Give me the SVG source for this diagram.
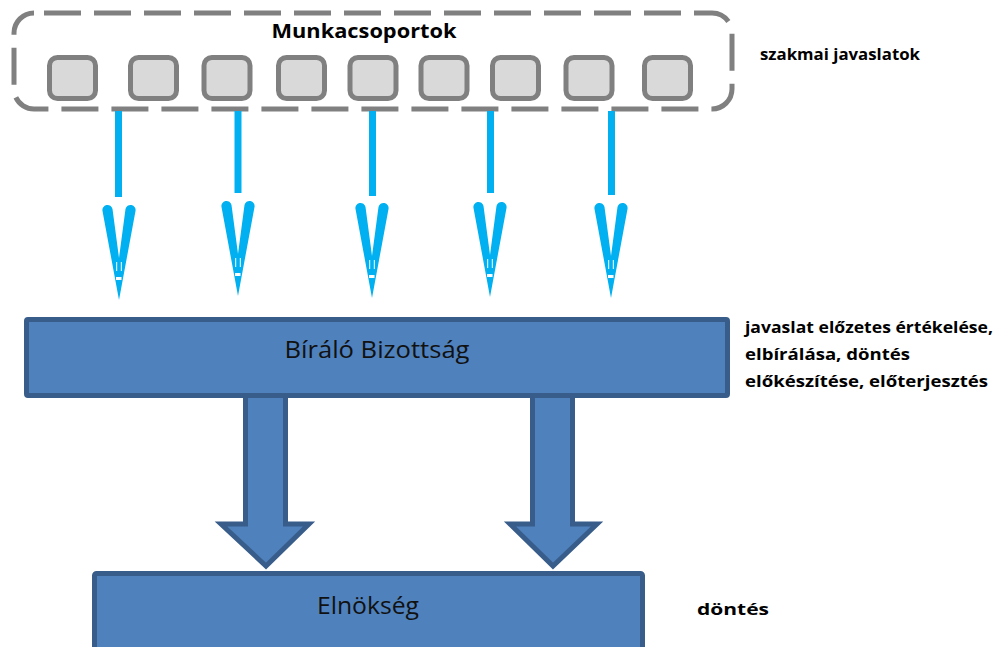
<svg xmlns="http://www.w3.org/2000/svg" width="1007" height="647" viewBox="0 0 1007 647">
<style>
.sq{fill:#d9d9d9;stroke:#808080;stroke-width:5}
.line{stroke:#00b0f0;stroke-width:7;fill:none}
.head{fill:#00b0f0}
.big{fill:#4f81bd;stroke:#385d8a;stroke-width:5;stroke-linejoin:miter}
.lbl{font-family:"Open Sans","Liberation Sans",Arial,sans-serif;font-weight:bold;font-size:16.5px;fill:#000}
.nodeText{font-family:"Open Sans","Liberation Sans",Arial,sans-serif;font-size:23px;fill:#111}
</style>
<defs>
<g id="vhead">
<path class="head" d="M0 0 L-16.5 -89 A4.8 4.8 0 0 1 -6.5 -91 L0 -42 L6.5 -91 A4.8 4.8 0 0 1 16.5 -89 Z"/>
<rect x="-2.8" y="-38" width="1" height="9" fill="#fff"/>
<rect x="1.8" y="-38" width="1" height="9" fill="#fff"/>
<rect x="-3" y="-23" width="5.5" height="3" fill="#fff"/>
</g>
</defs>
<rect width="1007" height="647" fill="#fff"/>
<g id="munkacsoportok">
<rect x="14" y="13" width="718" height="96" rx="20" fill="none" stroke="#808080" stroke-width="5" stroke-dasharray="37 13" stroke-dashoffset="-10"/>
<text x="364" y="38" text-anchor="middle" font-family="Open Sans,Liberation Sans,Arial,sans-serif" font-weight="bold" font-size="20" textLength="185" lengthAdjust="spacingAndGlyphs">Munkacsoportok</text>
<rect class="sq" x="49.5" y="57.5" width="46" height="41" rx="8"/>
<rect class="sq" x="130.5" y="57.5" width="46" height="41" rx="8"/>
<rect class="sq" x="204" y="57.5" width="46" height="41" rx="8"/>
<rect class="sq" x="278.5" y="57.5" width="46" height="41" rx="8"/>
<rect class="sq" x="350" y="57.5" width="46" height="41" rx="8"/>
<rect class="sq" x="421" y="57.5" width="46" height="41" rx="8"/>
<rect class="sq" x="492.5" y="57.5" width="46" height="41" rx="8"/>
<rect class="sq" x="566" y="57.5" width="46" height="41" rx="8"/>
<rect class="sq" x="644.5" y="57.5" width="46" height="41" rx="8"/>
</g>
<g id="connectors">
<line class="line" x1="118.5" y1="111" x2="118.5" y2="197"/>
<use href="#vhead" transform="translate(119,300)"/>
<line class="line" x1="238" y1="111" x2="238" y2="193"/>
<use href="#vhead" transform="translate(238,296)"/>
<line class="line" x1="372.5" y1="111" x2="372.5" y2="196"/>
<use href="#vhead" transform="translate(372,298)"/>
<line class="line" x1="490.5" y1="111" x2="490.5" y2="193"/>
<use href="#vhead" transform="translate(490,297)"/>
<line class="line" x1="611.5" y1="111" x2="611.5" y2="195"/>
<use href="#vhead" transform="translate(611,298)"/>
<polygon class="big" points="245.5,394 285.5,394 285.5,524 309,524 266,566 221,524 245.5,524"/>
<polygon class="big" points="532.5,394 572.5,394 572.5,524 597,524 553,566 510,524 532.5,524"/>
</g>
<g id="biralo">
<rect x="26.5" y="319.5" width="701" height="76" rx="1.5" fill="#4f81bd" stroke="#385d8a" stroke-width="5"/>
<text class="nodeText" x="377" y="358" text-anchor="middle" textLength="185" lengthAdjust="spacingAndGlyphs">Bíráló Bizottság</text>
</g>
<g id="elnokseg">
<rect x="94.5" y="573.5" width="548" height="100" rx="2" fill="#4f81bd" stroke="#385d8a" stroke-width="5"/>
<text class="nodeText" x="368" y="614" text-anchor="middle" textLength="102" lengthAdjust="spacingAndGlyphs">Elnökség</text>
</g>
<g id="labels">
<text class="lbl" x="760" y="60" textLength="160" lengthAdjust="spacingAndGlyphs">szakmai javaslatok</text>
<text class="lbl" x="745" y="333" textLength="248" lengthAdjust="spacingAndGlyphs">javaslat előzetes értékelése,</text>
<text class="lbl" x="745" y="360" textLength="165" lengthAdjust="spacingAndGlyphs">elbírálása, döntés</text>
<text class="lbl" x="745" y="387" textLength="243" lengthAdjust="spacingAndGlyphs">előkészítése, előterjesztés</text>
<text class="lbl" x="697" y="615" textLength="72" lengthAdjust="spacingAndGlyphs">döntés</text>
</g>
</svg>
